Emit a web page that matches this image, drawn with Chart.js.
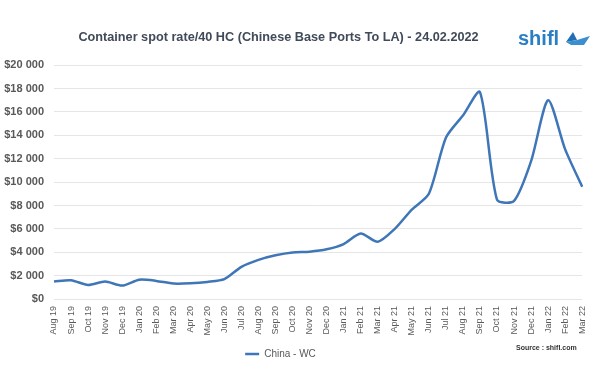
<!DOCTYPE html>
<html>
<head>
<meta charset="utf-8">
<script src="https://cdn.jsdelivr.net/npm/chart.js@4.4.1/dist/chart.umd.min.js"></script>
<style>
  html, body { margin: 0; padding: 0; background: #ffffff; }
  #wrap { position: relative; width: 600px; height: 373px; }
</style>
</head>
<body>
<div id="wrap"><canvas id="rateChart"></canvas></div>
<script>
// --- Data ---
const months = [
  "Aug 19", "Sep 19", "Oct 19", "Nov 19", "Dec 19",
  "Jan 20", "Feb 20", "Mar 20", "Apr 20", "May 20", "Jun 20", "Jul 20",
  "Aug 20", "Sep 20", "Oct 20", "Nov 20", "Dec 20",
  "Jan 21", "Feb 21", "Mar 21", "Apr 21", "May 21", "Jun 21", "Jul 21",
  "Aug 21", "Sep 21", "Oct 21", "Nov 21", "Dec 21",
  "Jan 22", "Feb 22", "Mar 22"
];
const chinaWC = [
  1500, 1600, 1200, 1500, 1150,
  1650, 1550, 1320, 1340, 1460, 1700, 2750,
  3350, 3740, 3980, 4050, 4250,
  4700, 5600, 4900, 6000, 7650, 9000, 13800,
  15700, 17700, 8500, 8400, 11800,
  17000, 12800, 9600
];
const seriesName = "China - WC";
const titleText = "Container spot rate/40 HC (Chinese Base Ports To LA) - 24.02.2022";
const sourceText = "Source : shifl.com";

const grey = "#595959";
const lineBlue = "#3e76b8";
const sans = "'Liberation Sans', Arial, sans-serif";

const money = (v) => {
  if (v === 0) return "$0";
  return "$" + Math.floor(v / 1000) + " " + String(v % 1000).padStart(3, "0");
};

// nudge title + legend left, like the original Excel layout
const shiftBlocks = {
  id: "shiftBlocks",
  afterLayout(chart) {
    if (chart.titleBlock) { chart.titleBlock.left -= 14; chart.titleBlock.right -= 14; }
    if (chart.legend) { chart.legend.left -= 12; chart.legend.right -= 12; }
  }
};

// logo + source note
const extras = {
  id: "extras",
  afterDraw(chart) {
    const ctx = chart.ctx;
    ctx.save();
    ctx.fillStyle = "#2a7fc4";
    ctx.font = "bold 20px " + sans;
    ctx.textBaseline = "alphabetic";
    ctx.textAlign = "left";
    ctx.fillText("shifl", 518, 45);

    // paper boat: dark sail + lighter hull
    ctx.fillStyle = "#1f6fb4";
    ctx.beginPath();
    ctx.moveTo(566, 42);
    ctx.lineTo(573, 32);
    ctx.lineTo(577, 40);
    ctx.closePath();
    ctx.fill();
    ctx.fillStyle = "#3b8fd0";
    ctx.beginPath();
    ctx.moveTo(566, 42);
    ctx.lineTo(577, 40);
    ctx.lineTo(590, 36);
    ctx.lineTo(584, 45);
    ctx.lineTo(571, 45);
    ctx.closePath();
    ctx.fill();

    ctx.fillStyle = "#333333";
    ctx.font = "bold 7px " + sans;
    ctx.textBaseline = "middle";
    ctx.fillText(sourceText, 516, 348);
    ctx.restore();
  }
};

window.addEventListener("DOMContentLoaded", () => {
  const el = document.getElementById("rateChart");
  new Chart(el, {
    type: "line",
    data: {
      labels: months,
      datasets: [{
        label: seriesName,
        data: chinaWC,
        borderColor: lineBlue,
        backgroundColor: lineBlue,
        borderWidth: 2.5,
        pointRadius: 0,
        tension: 0.25,
        fill: false
      }]
    },
    options: {
      responsive: true,
      maintainAspectRatio: false,
      animation: false,
      layout: { padding: { top: 0, left: 0, right: 15, bottom: 4 } },
      plugins: {
        title: {
          display: true,
          text: titleText,
          color: "#404a59",
          font: { size: 12.7, weight: "bold", family: sans },
          padding: { top: 30, bottom: 20 }
        },
        legend: {
          position: "bottom",
          labels: {
            color: grey,
            font: { size: 10, family: sans },
            padding: 10,
            usePointStyle: true,
            pointStyle: "line",
            pointStyleWidth: 14
          }
        },
        tooltip: { enabled: false }
      },
      scales: {
        x: {
          grid: { display: false, drawTicks: false },
          border: { display: false },
          ticks: {
            color: grey,
            font: { size: 9, family: sans },
            autoSkip: false,
            minRotation: 90,
            maxRotation: 90,
            padding: 7
          },
          afterFit: (scale) => { scale.height = 40; }
        },
        y: {
          min: 0,
          max: 20000,
          grid: { color: "#e6e6e6", lineWidth: 1, drawTicks: false },
          border: { display: false },
          ticks: {
            stepSize: 2000,
            color: grey,
            font: { size: 11, weight: "bold", family: sans },
            padding: 10,
            callback: (v) => money(v)
          },
          afterFit: (scale) => { scale.width = 54; }
        }
      }
    },
    plugins: [shiftBlocks, extras]
  });
});
</script>
</body>
</html>
